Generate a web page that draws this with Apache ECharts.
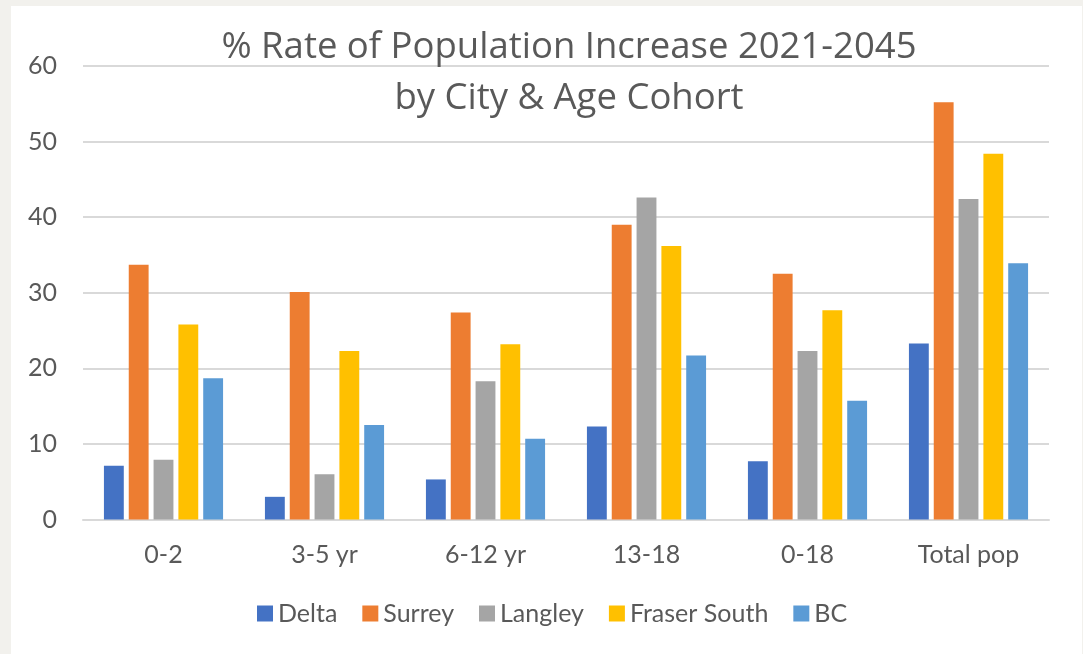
<!DOCTYPE html>
<html>
<head>
<meta charset="utf-8">
<script src="https://cdn.jsdelivr.net/npm/echarts@6/dist/echarts.min.js"></script>
<style>
  html, body { margin: 0; padding: 0; background: #f2f1ed; }
  #frame { position: absolute; left: 11px; top: 6px; width: 1071px; height: 648px; background: #ffffff; }
  #chart { position: absolute; left: 0; top: 0; width: 1083px; height: 654px; }
</style>
</head>
<body>
<div id="frame"></div>
<div id="chart"></div>
<script>
  // 数据
  const categories = ['0-2', '3-5 yr', '6-12 yr', '13-18', '0-18', 'Total pop']
  const delta = [7.1, 3.0, 5.3, 12.3, 7.7, 23.3]
  const surrey = [33.7, 30.1, 27.4, 39.0, 32.5, 55.2]
  const langley = [7.9, 6.0, 18.3, 42.6, 22.3, 42.4]
  const fraserSouth = [25.8, 22.3, 23.2, 36.2, 27.7, 48.4]
  const bc = [18.7, 12.5, 10.7, 21.7, 15.7, 33.9]

  const font = 'Lato, "Open Sans", sans-serif'
  const textColor = '#595959'

  const chart = echarts.init(document.getElementById('chart'))

  function bar(name, data, color) {
    return {
      name,
      type: 'bar',
      data,
      barGap: '25%',
      barCategoryGap: '26%',
      itemStyle: { color },
      animation: false
    }
  }

  chart.setOption({
    backgroundColor: 'transparent',
    textStyle: { fontFamily: font },
    title: {
      text: '% Rate of Population Increase 2021-2045\nby City & Age Cohort',
      left: 564,
      textAlign: 'center',
      top: 17,
      textStyle: {
        fontFamily: '"Open Sans", sans-serif',
        fontSize: 36.5,
        fontWeight: 'normal',
        color: textColor,
        lineHeight: 51
      }
    },
    grid: { left: 83, right: 34, top: 66, bottom: 134.5 },
    legend: {
      bottom: 23,
      left: 252,
      itemWidth: 16,
      itemHeight: 16,
      itemGap: 25,
      icon: 'rect',
      textStyle: { fontFamily: font, fontSize: 25, color: textColor },
      data: ['Delta', 'Surrey', 'Langley', 'Fraser South', 'BC']
    },
    xAxis: {
      type: 'category',
      data: categories,
      axisLine: { lineStyle: { color: '#d9d9d9', width: 2 } },
      axisTick: { show: false },
      axisLabel: { fontFamily: font, fontSize: 25, color: textColor, margin: 23 }
    },
    yAxis: {
      type: 'value',
      min: 0,
      max: 60,
      interval: 10,
      axisLine: { show: false },
      axisTick: { show: false },
      splitLine: { lineStyle: { color: '#d9d9d9', width: 2 } },
      axisLabel: { fontFamily: font, fontSize: 25, color: textColor, margin: 26 }
    },
    series: [
      bar('Delta', delta, '#4472c4'),
      bar('Surrey', surrey, '#ed7d31'),
      bar('Langley', langley, '#a5a5a5'),
      bar('Fraser South', fraserSouth, '#ffc000'),
      bar('BC', bc, '#5b9bd5')
    ]
  })
</script>
</body>
</html>
